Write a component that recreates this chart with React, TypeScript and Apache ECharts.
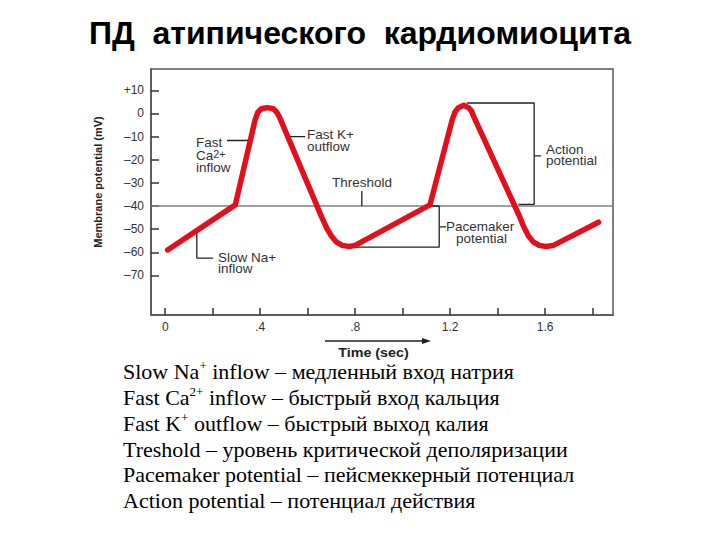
import React, { useEffect, useRef } from 'react';
import * as echarts from 'echarts';

// ---- Data ----
const timeSec = [
  0.01, 0.295, 0.378, 0.39, 0.405, 0.43, 0.455, 0.47, 0.483, 0.66, 0.68, 0.70, 0.72, 0.745, 0.775, 0.80,
  1.115, 1.208, 1.22, 1.235, 1.257, 1.278, 1.29, 1.30, 1.49, 1.51, 1.53, 1.55, 1.575, 1.605, 1.635, 1.825,
];
const membraneMv = [
  -59, -39.5, -3, 0.5, 2, 2.5, 2, 0.5, -2, -45, -49.5, -53, -55.5, -57, -57.5, -57,
  -39.5, -3, 0.5, 2.5, 3.5, 2.5, 1, -1.5, -44, -49, -53, -55.5, -57, -57.5, -57, -47,
];
const thresholdMv = -40;

const xTickValues = [0, 0.2, 0.4, 0.6, 0.8, 1.0, 1.2, 1.4, 1.6, 1.8];
const xLabelValues = [0, 0.4, 0.8, 1.2, 1.6];
const xLabelTexts = ['0', '.4', '.8', '1.2', '1.6'];
const yTickValues = [10, 0, -10, -20, -30, -40, -50, -60, -70];
const yLabelTexts = ['+10', '0', '\u201310', '\u201320', '\u201330', '\u201340', '\u201350', '\u201360', '\u201370'];

// annotation leader / bracket lines, in (sec, mV)
const pacemakerBracket = [[0.772, -57.8], [1.154, -57.8], [1.154, -40], [1.116, -40]];
const pacemakerTick = [[1.154, -49], [1.183, -49]];
const actionBracket = [[1.27, 4.5], [1.554, 4.5], [1.554, -39.3], [1.488, -39.3]];
const actionTick = [[1.554, -18.3], [1.583, -18.3]];
const slowNaLeader = [[0.133, -50], [0.133, -62.5], [0.202, -62.5]];
const fastCaLeader = [[0.26, -11.7], [0.362, -11.7]];
const fastKLeader = [[0.512, -10], [0.589, -10]];
const thresholdLeader = [[0.828, -33.5], [0.828, -40]];

const titleText = 'ПД  атипического  кардиомиоцита';
const yAxisTitle = 'Membrane potential (mV)';
const xAxisTitle = 'Time (sec)';
const legendLines = [
  ['Slow Na', '+', ' inflow – медленный вход натрия'],
  ['Fast Ca', '2+', ' inflow – быстрый вход кальция'],
  ['Fast K', '+', ' outflow – быстрый выход калия'],
  ['Treshold – уровень критической деполяризации', '', ''],
  ['Pacemaker potential – пейсмеккерный потенциал', '', ''],
  ['Action potential – потенциал действия', '', ''],
];

const sans = '"Liberation Sans", Arial, Helvetica, sans-serif';
const serif = '"Liberation Serif", "Times New Roman", serif';

export default function App() {
  const ref = useRef<HTMLDivElement>(null);

  useEffect(() => {
    if (!ref.current) return;
    const chart = echarts.init(ref.current, undefined, { renderer: 'svg' });

    const near = (a: number, b: number) => Math.abs(a - b) < 1e-6;
    const leader = (data: number[][], color = '#222', width = 1.3, z = 3) => ({
      type: 'line',
      data,
      symbol: 'none',
      silent: true,
      z,
      lineStyle: { color, width },
    });

    const annoText = (text: string, x: number, y: number, extra: any = {}) => ({
      type: 'text',
      x,
      y,
      scaleX: 1.08,
      style: {
        text,
        fontFamily: sans,
        fontSize: 12.5,
        fill: '#333',
        textVerticalAlign: 'middle',
        ...extra,
      },
    });

    const legendYs = [371, 397, 423, 449, 474, 500];
    const legendGraphics = legendLines.map((parts, i) => {
      const txt = parts[1]
        ? `{m|${parts[0]}}{s|${parts[1]}}{m|${parts[2]}}`
        : `{m|${parts[0]}}`;
      return {
        type: 'text',
        x: 123,
        y: legendYs[i],
        style: {
          text: txt,
          textVerticalAlign: 'middle',
          rich: {
            m: { fontFamily: serif, fontSize: 22, fill: '#000', lineHeight: 24 },
            s: { fontFamily: serif, fontSize: 13, fill: '#000', lineHeight: 24, verticalAlign: 'top' },
          },
        },
      };
    });

    chart.setOption({
      animation: false,
      backgroundColor: '#fff',
      grid: {
        left: 151,
        top: 69,
        right: 107,
        bottom: 225,
        show: true,
        borderColor: '#555',
        borderWidth: 1.5,
      },
      xAxis: {
        type: 'value',
        min: -0.06,
        max: 1.886,
        splitLine: { show: false },
        axisLine: { show: true, onZero: false, lineStyle: { color: '#555', width: 1.5 } },
        axisTick: {
          show: true,
          inside: true,
          length: 7,
          customValues: xTickValues,
          lineStyle: { color: '#333', width: 1.5 },
        },
        axisLabel: {
          customValues: xLabelValues,
          margin: 6,
          color: '#333',
          fontFamily: sans,
          fontSize: 12,
          formatter: (v: number) => {
            const i = xLabelValues.findIndex((t) => near(t, v));
            return i >= 0 ? xLabelTexts[i] : '';
          },
        },
      },
      yAxis: {
        type: 'value',
        min: -87.1,
        max: 19.2,
        splitLine: { show: false },
        axisLine: { show: true, onZero: false, lineStyle: { color: '#555', width: 1.5 } },
        axisTick: {
          show: true,
          inside: true,
          length: 8,
          customValues: yTickValues,
          lineStyle: { color: '#333', width: 1.5 },
        },
        axisLabel: {
          customValues: yTickValues,
          margin: 7,
          color: '#333',
          fontFamily: sans,
          fontSize: 12,
          formatter: (v: number) => {
            const i = yTickValues.findIndex((t) => near(t, v));
            return i >= 0 ? yLabelTexts[i] : '';
          },
        },
      },
      series: [
        leader([[-0.06, thresholdMv], [1.886, thresholdMv]], '#808080', 1.5, 1),
        leader(pacemakerBracket),
        leader(pacemakerTick),
        leader(actionBracket),
        leader(actionTick),
        leader(slowNaLeader),
        leader(fastCaLeader),
        leader(fastKLeader),
        leader(thresholdLeader),
        {
          type: 'line',
          data: timeSec.map((t, i) => [t, membraneMv[i]]),
          symbol: 'none',
          silent: true,
          z: 5,
          lineStyle: { color: '#e2101c', width: 5.5, cap: 'round', join: 'round' },
        },
      ],
      graphic: [
        {
          type: 'text',
          x: 360,
          y: 33,
          style: {
            text: titleText,
            fontFamily: sans,
            fontWeight: 'bold',
            fontSize: 32,
            fill: '#000',
            textAlign: 'center',
            textVerticalAlign: 'middle',
          },
        },
        {
          type: 'text',
          x: 98,
          y: 182,
          rotation: Math.PI / 2,
          style: {
            text: yAxisTitle,
            fontFamily: sans,
            fontWeight: 'bold',
            fontSize: 11,
            fill: '#222',
            textAlign: 'center',
            textVerticalAlign: 'middle',
          },
        },
        annoText('Fast', 196, 143),
        {
          type: 'text',
          x: 196,
          y: 155.7,
          scaleX: 1.08,
          style: {
            text: '{a|Ca}{b|2+}',
            textVerticalAlign: 'middle',
            rich: {
              a: { fontFamily: sans, fontSize: 12.5, fill: '#333', lineHeight: 13 },
              b: { fontFamily: sans, fontSize: 10, fill: '#333', lineHeight: 13, verticalAlign: 'top' },
            },
          },
        },
        annoText('inflow', 196, 168),
        annoText('Fast K+', 307, 135),
        annoText('outflow', 307, 147),
        annoText('Threshold', 332, 183),
        annoText('Slow Na+', 218, 257.3),
        annoText('inflow', 218, 268.5),
        annoText('Pacemaker', 446, 226.7),
        annoText('potential', 456, 239),
        annoText('Action', 546, 149.3),
        annoText('potential', 546, 160.5),
        {
          type: 'text',
          x: 373.5,
          y: 352.7,
          scaleX: 1.1,
          style: {
            text: xAxisTitle,
            fontFamily: sans,
            fontWeight: 'bold',
            fontSize: 13,
            fill: '#222',
            textAlign: 'center',
            textVerticalAlign: 'middle',
          },
        },
        {
          type: 'line',
          shape: { x1: 325, y1: 341, x2: 424, y2: 341 },
          style: { stroke: '#222', lineWidth: 1.3 },
        },
        {
          type: 'polygon',
          shape: { points: [[422, 338], [431, 341], [422, 344]] },
          style: { fill: '#222' },
        },
        ...legendGraphics,
      ],
    });

    return () => chart.dispose();
  }, []);

  return (
    <div
      ref={ref}
      style={{ position: 'fixed', left: 0, top: 0, width: 720, height: 540, background: '#fff' }}
    />
  );
}
